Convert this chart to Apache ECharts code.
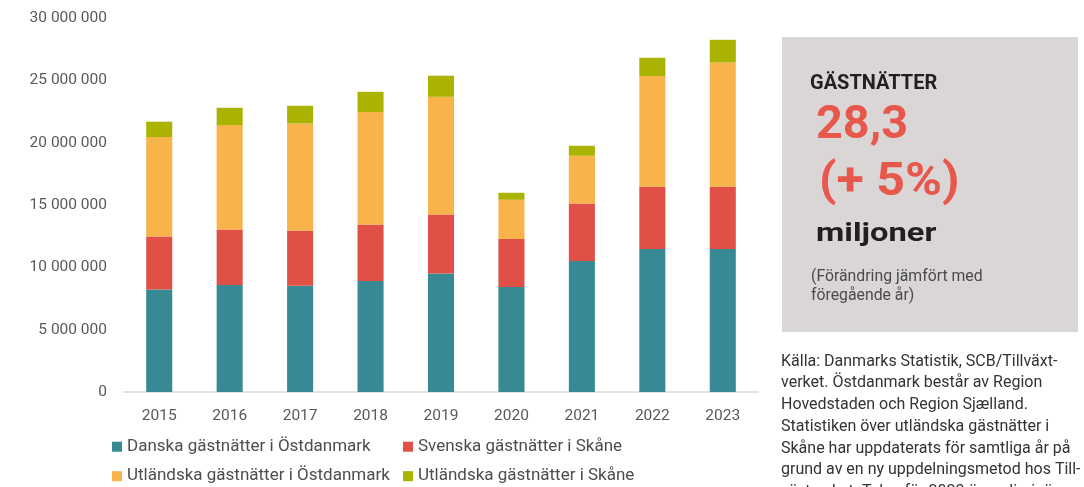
<!DOCTYPE html>
<html>
<head>
<meta charset="utf-8">
<script src="https://cdn.jsdelivr.net/npm/echarts@6/dist/echarts.min.js"></script>
<style>
  html, body { margin: 0; padding: 0; background: #ffffff; }
  #chart { width: 1084px; height: 487px; }
</style>
</head>
<body>
<div id="chart"></div>
<script>
// Gästnätter per år, staplade per kategori
const years = ['2015', '2016', '2017', '2018', '2019', '2020', '2021', '2022', '2023'];
const danskaOstdanmark = [8230000, 8580000, 8520000, 8900000, 9510000, 8420000, 10510000, 11470000, 11470000];
const svenskaSkane = [4250000, 4460000, 4420000, 4540000, 4730000, 3850000, 4610000, 4990000, 4990000];
const utlandskaOstdanmark = [7970000, 8370000, 8600000, 9010000, 9440000, 3150000, 3830000, 8880000, 9970000];
const utlandskaSkane = [1230000, 1390000, 1420000, 1630000, 1690000, 560000, 800000, 1470000, 1820000];
const yTicks = { min: 0, max: 30000000, interval: 5000000 };

const seriesNames = [
  'Danska gästnätter i Östdanmark',
  'Svenska gästnätter i Skåne',
  'Utländska gästnätter i Östdanmark',
  'Utländska gästnätter i Skåne'
];
const seriesColors = ['#378a94', '#e15046', '#f9b34b', '#a9b300'];
const seriesData = [danskaOstdanmark, svenskaSkane, utlandskaOstdanmark, utlandskaSkane];

const sourceLines = [
  'Källa: Danmarks Statistik, SCB/Tillväxt-',
  'verket. Östdanmark består av Region',
  'Hovedstaden och Region Sjælland.',
  'Statistiken över utländska gästnätter i',
  'Skåne har uppdaterats för samtliga år på',
  'grund av en ny uppdelningsmetod hos Till-',
  'växtverket. Talen för 2023 är preliminära.'
];

const fmt = v => String(v).replace(/\B(?=(\d{3})+(?!\d))/g, ' ');

const chart = echarts.init(document.getElementById('chart'), null, { renderer: 'canvas' });

const legendText = { fontFamily: 'Roboto', fontSize: 17, color: '#4d4d4d', lineHeight: 20 };

// Faktaruta till höger och källtext under den
const graphic = [
  { type: 'rect', shape: { x: 782, y: 37, width: 296, height: 295 }, style: { fill: '#dad6d6' }, silent: true },
  { type: 'text', x: 810, y: 83.7, style: { text: 'GÄSTNÄTTER', font: 'bold 20px Roboto', fill: '#231f20', verticalAlign: 'middle' } },
  { type: 'text', x: 816, y: 126.7, style: { text: '28,3', font: 'bold 46.8px Roboto', fill: '#e8574c', verticalAlign: 'middle' } },
  { type: 'text', x: 819, y: 183.3, scaleX: 1.07, style: { text: '(+ 5%)', font: 'bold 46.8px Roboto', fill: '#e8574c', verticalAlign: 'middle' } },
  { type: 'text', x: 816, y: 234.6, scaleX: 1.28, style: { text: 'miljoner', font: 'bold 25.5px Roboto', fill: '#231f20', verticalAlign: 'middle' } },
  { type: 'text', x: 811, y: 277, style: { text: '(Förändring jämfört med', font: '15.8px Roboto', fill: '#4a4a4a', verticalAlign: 'middle' } },
  { type: 'text', x: 811, y: 296.5, style: { text: 'föregående år)', font: '15.8px Roboto', fill: '#4a4a4a', verticalAlign: 'middle' } }
];
sourceLines.forEach((line, i) => {
  graphic.push({
    type: 'text', x: 781, y: 361.7 + i * 21.7,
    style: { text: line, font: '16px Roboto', fill: '#333333', verticalAlign: 'middle' }
  });
});

chart.setOption({
  animation: false,
  backgroundColor: '#ffffff',
  grid: { left: 124, top: 18, width: 634, height: 374, containLabel: false },
  legend: [
    {
      left: 112, top: 436.7, orient: 'vertical', padding: 0,
      itemWidth: 10, itemHeight: 10, itemGap: 9.5,
      icon: 'rect', textStyle: legendText,
      data: [seriesNames[0], seriesNames[2]]
    },
    {
      left: 403, top: 436.7, orient: 'vertical', padding: 0,
      itemWidth: 10, itemHeight: 10, itemGap: 9.5,
      icon: 'rect', textStyle: legendText,
      data: [seriesNames[1], seriesNames[3]]
    }
  ],
  xAxis: {
    type: 'category',
    data: years,
    axisLine: { show: true, lineStyle: { color: '#d9d9d9', width: 1.5 } },
    axisTick: { show: false },
    axisLabel: { margin: 16, fontFamily: 'Roboto', fontSize: 15.5, color: '#595959' },
    splitLine: { show: false }
  },
  yAxis: {
    type: 'value',
    min: yTicks.min, max: yTicks.max, interval: yTicks.interval,
    axisLine: { show: false },
    axisTick: { show: false },
    splitLine: { show: false },
    axisLabel: { margin: 17, fontFamily: 'Roboto', fontSize: 15.5, color: '#595959', formatter: fmt }
  },
  series: seriesNames.map((name, i) => ({
    name: name,
    type: 'bar',
    stack: 'total',
    barWidth: '37%',
    data: seriesData[i],
    itemStyle: { color: seriesColors[i] },
    emphasis: { disabled: true }
  })),
  graphic: graphic
});
</script>
</body>
</html>
